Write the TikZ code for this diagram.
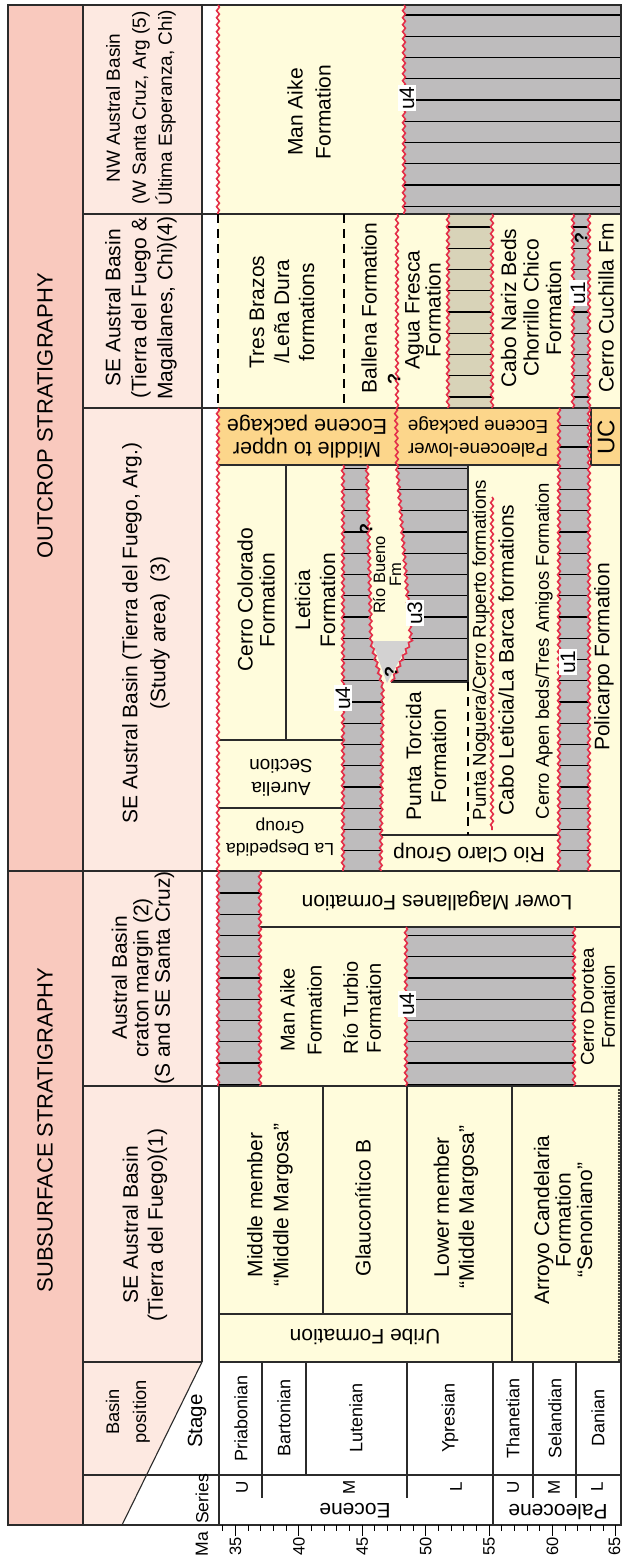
\documentclass[tikz,border=0pt]{standalone}
\usepackage{fontspec}
\setmainfont{Liberation Sans}
\usetikzlibrary{decorations.pathmorphing}
\definecolor{pinkA}{HTML}{F9C9BE}
\definecolor{pinkB}{HTML}{FDE9E1}
\definecolor{cream}{HTML}{FFFCDC}
\definecolor{hiat}{HTML}{BEBCBD}
\definecolor{lhiat}{HTML}{D3D2D2}
\definecolor{tanc}{HTML}{D8D3B8}
\definecolor{orng}{HTML}{FCD68B}
\definecolor{wred}{HTML}{E4304A}
\definecolor{lineg}{HTML}{2B2B2B}
\newcommand{\hiatrect}[6]{%
  \fill[#1] (#2,#3) rectangle (#4,#5);
  \begin{scope}
    \clip (#2,#3) rectangle (#4,#5);
    \foreach \k in {0,...,24}{\draw[hatchline] (#2,{#6+\k*21.25}) -- (#4,{#6+\k*21.25});}
  \end{scope}}
\begin{document}
\begin{tikzpicture}[x=1pt,y=-1pt,
  cellline/.style={draw=lineg,line width=1.1pt},
  hatchline/.style={draw=black,line width=1.1pt},
  wavy/.style={draw=wred,line width=1.6pt,decorate,decoration={snake,amplitude=1.4pt,segment length=7pt}},
  dsh/.style={draw=black,line width=1.3pt,dash pattern=on 9pt off 6pt},
  lbl/.style={font=\fontsize{21}{24}\selectfont,align=center,rotate=90,inner sep=0pt},
  lblf/.style={font=\fontsize{21}{23}\selectfont,align=center,rotate=180,inner sep=0pt},
  hdr/.style={font=\fontsize{21}{26}\selectfont,align=center,rotate=90,inner sep=0pt},
  big/.style={font=\fontsize{22}{26}\selectfont,rotate=90,inner sep=0pt},
  ulab/.style={font=\fontsize{21}{21}\selectfont,rotate=90,fill=white,inner sep=1.5pt},
  qm/.style={font=\bfseries\fontsize{18}{18}\selectfont,rotate=90,inner sep=0pt},
  stg/.style={font=\fontsize{18}{20}\selectfont,rotate=90,inner sep=0pt},
  ser/.style={font=\fontsize{17}{20}\selectfont,rotate=90,inner sep=0pt},
]
\useasboundingbox (0,0) rectangle (622,1562);
\fill[white] (0,0) rectangle (622,1562);
% backgrounds
\fill[pinkA] (8,5) rectangle (83,1525);
\fill[pinkB] (83,5) rectangle (202,1362);
\fill[pinkB] (83,1362) -- (202,1362) -- (122,1525) -- (83,1525) -- cycle;
\fill[cream] (218,5) rectangle (621,1362);
% orange packages
\fill[orng] (218,408) rectangle (396,465);
\fill[orng] (396,408) rectangle (559,465);
\fill[orng] (591,408) rectangle (621,465);
% hiatus areas
\hiatrect{hiat}{404}{5}{621}{214}{15}
\hiatrect{tanc}{448}{214}{492}{408}{227}
\hiatrect{hiat}{573}{214}{589}{408}{227}
\hiatrect{hiat}{559}{408}{589}{871}{425.75}
\hiatrect{hiat}{218}{871}{260}{1086}{893}
\hiatrect{hiat}{406}{927}{574}{1086}{893}
% u4 (band 3)
\fill[hiat] (343,465) -- (367,465) -- (371,639) -- (383,685) -- (381,871) -- (343,871) -- cycle;
\begin{scope}
\clip (343,465) -- (367,465) -- (371,639) -- (383,685) -- (381,871) -- (343,871) -- cycle;
\foreach \k in {0,...,19}{\draw[hatchline] (343,{468.25+\k*21.25}) -- (385,{468.25+\k*21.25});}
\end{scope}
% u3 (band 3)
\fill[hiat] (397,465) -- (468,465) -- (468,682) -- (391,682) -- (411,639) -- cycle;
\begin{scope}
\clip (397,465) -- (468,465) -- (468,682) -- (391,682) -- (411,639) -- cycle;
\foreach \k in {0,...,10}{\draw[hatchline] (390,{468.25+\k*21.25}) -- (468,{468.25+\k*21.25});}
\end{scope}
\fill[lhiat] (372,641) -- (410,641) -- (387,683) -- cycle;
% frame and grid lines
\draw[cellline] (8,5) rectangle (621,1525);
\draw[cellline] (83,5) -- (83,1525);
\draw[cellline] (202,5) -- (202,1362);
\draw[cellline] (83,214) -- (621,214);
\draw[cellline] (83,408) -- (621,408);
\draw[cellline] (8,871) -- (621,871);
\draw[cellline] (83,1086) -- (621,1086);
\draw[cellline] (83,1362) -- (202,1362);
\draw[cellline] (219,1362) -- (621,1362);
\draw[cellline] (83,1475) -- (621,1475);
\draw[cellline] (202,1362) -- (122,1525);
\draw[cellline] (219,1086) -- (219,1525);
% band 3 cells
\draw[cellline] (218,465) -- (559,465);
\draw[cellline] (591,408) rectangle (621,465);
\draw[cellline] (286,465) -- (286,740);
\draw[cellline] (218,740) -- (343,740);
\draw[cellline] (218,808) -- (343,808);
\draw[cellline] (468,465) -- (468,682);
\draw[cellline] (391,682) -- (468,682);
\draw[cellline] (381,835) -- (559,835);
% band 4 and 5 cells
\draw[cellline] (260,927) -- (621,927);
\draw[cellline] (323,1086) -- (323,1314);
\draw[cellline] (407,1086) -- (407,1314);
\draw[cellline] (219,1314) -- (512,1314);
\draw[cellline] (512,1086) -- (512,1362);
% stage and series
\foreach \xx in {262,306,407,493,533,576}{\draw[cellline] (\xx,1362) -- (\xx,1475);}
\foreach \xx in {262,407,533,576}{\draw[cellline] (\xx,1475) -- (\xx,1498);}
\draw[cellline] (493,1475) -- (493,1525);
% unconformities
\draw[wavy] (218,5) -- (218,214);
\draw[wavy] (404,5) -- (404,214);
\foreach \xx in {397,448,492,573,589}{\draw[wavy] (\xx,214) -- (\xx,408);}
\draw[wavy] (218,408) -- (218,1086);
\draw[wavy] (396,408) -- (397,465) -- (411,639) -- (391,682);
\draw[wavy] (559,408) -- (559,871);
\draw[wavy] (589,408) -- (589,871);
\draw[wavy] (343,465) -- (343,871);
\draw[wavy] (367,465) -- (371,639) -- (383,685) -- (381,871);
\draw[wavy] (492,497) -- (492,830);
\draw[wavy] (260,871) -- (260,1086);
\draw[wavy] (406,927) -- (406,1086);
\draw[wavy] (574,927) -- (574,1086);
\draw[dsh] (218,214) -- (218,408);
\draw[dsh] (344,214) -- (344,408);
\draw[dsh] (468,682) -- (468,835);
\draw[black,line width=2.4pt,line cap=round,dash pattern=on 0pt off 3pt] (619,1090) -- (619,1362);
% axis
\foreach \m in {34,...,65}{\pgfmathsetmacro\xx{235.5+(\m-35)*12.68}\draw[black,line width=1pt] (\xx,1525) -- (\xx,1531);}
\foreach \m in {35,40,...,65}{\pgfmathsetmacro\xx{235.5+(\m-35)*12.68}
  \draw[black,line width=1pt] (\xx,1525) -- (\xx,1536);
  \node[ser,font=\fontsize{16.5}{20}\selectfont,anchor=east] (ax\m) at ({min(\xx,614.5)},1537) {\m};}
% headers
\node[big] (hOut) at (45,416) {OUTCROP STRATIGRAPHY};
\node[big] (hSub) at (45,1130) {SUBSURFACE STRATIGRAPHY};
\node[hdr,font=\fontsize{19}{26}\selectfont] (h5) at (141,108) {NW Austral Basin\\(W Santa Cruz, Arg (5)\\Última Esperanza, Chi)};
\node[hdr] (h4) at (141,308) {SE Austral Basin\\(Tierra del Fuego \&\\Magallanes, Chi)(4)};
\node[hdr,font=\fontsize{21}{28}\selectfont] (h3) at (146,633) {SE Austral Basin (Tierra del Fuego, Arg.)\\(Study area)~~(3)};
\node[hdr,font=\fontsize{21}{21.5}\selectfont] (h2) at (143,978) {Austral Basin\\craton margin (2)\\(S and SE Santa Cruz)};
\node[hdr,font=\fontsize{21}{25}\selectfont] (h1) at (145,1225) {SE Austral Basin\\(Tierra del Fuego)(1)};
\node[hdr,font=\fontsize{18.3}{27}\selectfont] (hbp) at (128,1412) {Basin\\position};
\node[lbl,font=\fontsize{20.5}{24}\selectfont] (hstage) at (197,1421) {Stage};
\node[ser,font=\fontsize{17.6}{20}\selectfont] (hseries) at (202,1499) {Series};
\node[ser,font=\fontsize{17.6}{20}\selectfont] (hma) at (202,1544) {Ma};
% band 1
\node[lbl,font=\fontsize{21}{28}\selectfont] (manaike5) at (309,112) {Man Aike\\Formation};
\node[ulab] (u4a) at (407,98) {u4};
% band 2
\node[lbl,font=\fontsize{21}{25}\selectfont] (tres) at (282,312) {Tres Brazos\\/Leña Dura\\formations};
\node[lbl] (ballena) at (369,308) {Ballena Formation};
\node[qm] (q1) at (394,379) {?};
\node[lbl,font=\fontsize{21}{21}\selectfont] (agua) at (423,310) {Agua Fresca\\Formation};
\node[lbl,font=\fontsize{21}{22.5}\selectfont] (cabonariz) at (531,308) {Cabo Nariz Beds\\Chorrillo Chico\\Formation};
\node[ulab] (u1a) at (578,293) {u1};
\node[qm] (q2) at (581,238) {?};
\node[lbl] (cuchilla) at (606,308) {Cerro Cuchilla Fm};
% band 3
\node[lblf,font=\fontsize{21.5}{23}\selectfont] (pkg1) at (307,437) {Middle to upper\\Eocene package};
\node[lblf,font=\fontsize{18.8}{23}\selectfont] (pkg2) at (478,437) {Paleocene-lower\\Eocene package};
\node[lbl,font=\fontsize{24}{24}\selectfont] (uc) at (606,437) {UC};
\node[lbl,font=\fontsize{21}{22}\selectfont] (cerrocol) at (256,600) {Cerro Colorado\\Formation};
\node[lbl,font=\fontsize{21}{25}\selectfont] (leticia) at (315,600) {Leticia\\Formation};
\node[lblf,font=\fontsize{19}{23}\selectfont] (aurelia) at (281,778) {Aurelia\\Section};
\node[lblf,font=\fontsize{17.5}{22}\selectfont] (desp) at (280,837) {La Despedida\\Group};
\node[lbl,font=\fontsize{16.5}{16}\selectfont] (riob) at (387,575) {Río Bueno\\Fm};
\node[qm] (q3) at (366,529) {?};
\node[qm] (q4) at (391,672) {?};
\node[ulab] (u3) at (415,613) {u3};
\node[ulab] (u4b) at (343,698) {u4};
\node[lbl,font=\fontsize{21}{25}\selectfont] (torcida) at (426,756) {Punta Torcida\\Formation};
\node[lbl,font=\fontsize{18.6}{20}\selectfont] (noguera) at (481,650) {Punta Noguera/Cerro Ruperto formations};
\node[lbl] (cabolet) at (506,660) {Cabo Leticia/La Barca formations};
\node[lbl,font=\fontsize{18.5}{20}\selectfont] (apen) at (544,651) {Cerro Apen beds/Tres Amigos Formation};
\node[ulab] (u1b) at (568,662) {u1};
\node[lbl] (policarpo) at (604,657) {Policarpo Formation};
\node[lblf] (rioclaro) at (469,853) {Rio Claro Group};
% band 4
\node[lblf] (lowermag) at (437,901) {Lower Magallanes Formation};
\node[lbl,font=\fontsize{20}{27}\selectfont] (manaike2) at (301,1010) {Man Aike\\Formation};
\node[lbl,font=\fontsize{20}{23}\selectfont] (rioturbio) at (362,1008) {Río Turbio\\Formation};
\node[ulab] (u4c) at (407,1004) {u4};
\node[lbl,font=\fontsize{18.6}{21}\selectfont] (dorotea) at (598,1007) {Cerro Dorotea\\Formation};
% band 5
\node[lbl,font=\fontsize{21}{26}\selectfont] (midmem) at (270,1205) {Middle member\\“Middle Margosa”};
\node[lbl] (glauco) at (363,1208) {Glauconítico B};
\node[lbl,font=\fontsize{21}{25}\selectfont] (lowmem) at (456,1207) {Lower member\\“Middle Margosa”};
\node[lbl,font=\fontsize{21}{21.5}\selectfont] (arroyo) at (563,1220) {Arroyo Candelaria\\Formation\\“Senoniano”};
\node[lblf] (uribe) at (365,1337) {Uribe Formation};
% stages
\node[stg] (sPri) at (241,1418) {Priabonian};
\node[stg] (sBar) at (284,1418) {Bartonian};
\node[stg] (sLut) at (356,1418) {Lutenian};
\node[stg] (sYpr) at (450,1418) {Ypresian};
\node[stg] (sTha) at (513,1418) {Thanetian};
\node[stg] (sSel) at (555,1418) {Selandian};
\node[stg] (sDan) at (598,1418) {Danian};
% series
\node[ser] (eU) at (242,1487) {U};
\node[ser] (eM) at (349,1487) {M};
\node[ser] (eL) at (456,1487) {L};
\node[ser] (pU) at (513,1487) {U};
\node[ser] (pM) at (554,1487) {M};
\node[ser] (pL) at (597,1487) {L};
\node[lblf] (eoc) at (355,1511) {Eocene};
\node[lblf] (pal) at (558,1512) {Paleocene};
\end{tikzpicture}
\end{document}
